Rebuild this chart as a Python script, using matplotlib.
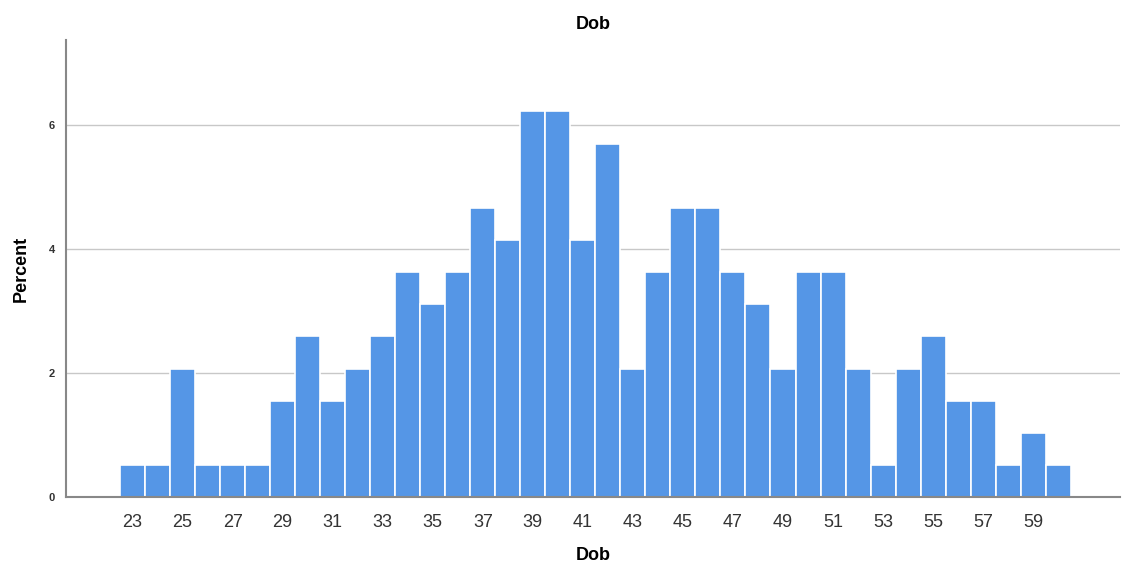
import numpy as np
import matplotlib.pyplot as plt

plt.rcParams['font.family'] = ['Liberation Sans', 'DejaVu Sans']

ages = list(range(23, 61))
percent = [0.52, 0.52, 2.07, 0.52, 0.52, 0.52, 1.55, 2.59, 1.55, 2.07,
           2.59, 3.63, 3.11, 3.63, 4.66, 4.15, 6.22, 6.22, 4.15, 5.70,
           2.07, 3.63, 4.66, 4.66, 3.63, 3.11, 2.07, 3.63, 3.63, 2.07,
           0.52, 2.07, 2.59, 1.55, 1.55, 0.52, 1.04, 0.52]
tick_ages = list(range(23, 61, 2))
y_ticks = [0, 2, 4, 6]

fig = plt.figure(figsize=(11.22, 5.63), dpi=100)
fig.patch.set_facecolor('white')
ax = fig.add_axes([0.0588, 0.1172, 0.9392, 0.8118])

ax.set_axisbelow(True)
ax.grid(axis='y', color='#c8c8c8', linewidth=1)
ax.bar(ages, percent, width=1.0, color='#5596e6', edgecolor='white', linewidth=1.2)

ax.set_xlim(20.34, 62.46)
ax.set_ylim(0, 7.37)
ax.set_xticks(tick_ages)
ax.set_xticklabels([str(a) for a in tick_ages], fontsize=13, color='#333333')
ax.set_yticks(y_ticks)
ax.set_yticklabels([str(v) for v in y_ticks], fontsize=8, fontweight='bold', color='#333333')
ax.tick_params(axis='both', length=0)
ax.tick_params(axis='x', pad=12)
ax.tick_params(axis='y', pad=8)

for side in ['top', 'right']:
    ax.spines[side].set_visible(False)
for side in ['left', 'bottom']:
    ax.spines[side].set_color('#888888')
    ax.spines[side].set_linewidth(1.5)

ax.set_title('Dob', fontsize=13, fontweight='bold', pad=8)
ax.set_xlabel('Dob', fontsize=13, fontweight='bold', labelpad=12)
ax.set_ylabel('Percent', fontsize=13, fontweight='bold')
ax.yaxis.set_label_coords(-0.034, 0.5)

fig.savefig('out.png', dpi=100)
